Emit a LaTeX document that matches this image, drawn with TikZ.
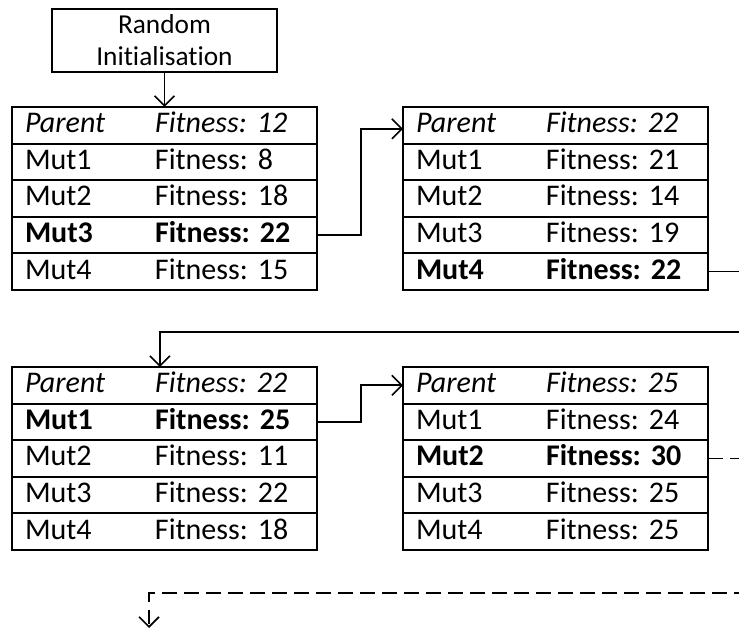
\documentclass[tikz,border=0pt]{standalone}
\usepackage{fontspec}
\setmainfont{Carlito}[RawFeature=-liga]
\usetikzlibrary{arrows.meta}

% two-column row text: label column, then fitness column
\newcommand\fitrow[2]{\makebox[97.5pt][l]{#1}#2}

\begin{document}
\frenchspacing
\begin{tikzpicture}[x=0.75pt,y=-0.75pt,
  rowbox/.style={draw, line width=1.4pt, anchor=north west, outer sep=0pt,
    minimum width=228.75pt, minimum height=27.45pt,
    text width=209.25pt, text height=16pt, text depth=5pt,
    inner xsep=9.75pt, inner ysep=0pt, align=left,
    font=\fontsize{22.5}{26}\selectfont},
  nextrow/.style={rowbox, at={(#1.south west)}},
  initbox/.style={draw, line width=1.4pt, outer sep=0pt, minimum width=168.75pt,
    minimum height=47.25pt, align=center, inner sep=0pt,
    font=\fontsize{20.5}{24}\selectfont},
  conn/.style={line width=1.2pt, -{Straight Barb[length=7.5pt,width=15pt,line width=1.2pt]}},
  dashconn/.style={conn, dash pattern=on 11pt off 5.5pt}]

\useasboundingbox (0,0) rectangle (739,630);
\clip (0,0) rectangle (739,630);

% start node
\node[initbox] (init) at (164.5,40.5) {Random\\Initialisation};

% generation 1
\node[rowbox] (t1r0) at (12,107) {\itshape\fitrow{Parent}{Fitness: 12}};
\node[nextrow=t1r0] (t1r1) {\fitrow{Mut1}{Fitness: 8}};
\node[nextrow=t1r1] (t1r2) {\fitrow{Mut2}{Fitness: 18}};
\node[nextrow=t1r2] (t1r3) {\bfseries\fitrow{Mut3}{Fitness: 22}};
\node[nextrow=t1r3] (t1r4) {\fitrow{Mut4}{Fitness: 15}};

% generation 2
\node[rowbox] (t2r0) at (403,107) {\itshape\fitrow{Parent}{Fitness: 22}};
\node[nextrow=t2r0] (t2r1) {\fitrow{Mut1}{Fitness: 21}};
\node[nextrow=t2r1] (t2r2) {\fitrow{Mut2}{Fitness: 14}};
\node[nextrow=t2r2] (t2r3) {\fitrow{Mut3}{Fitness: 19}};
\node[nextrow=t2r3] (t2r4) {\bfseries\fitrow{Mut4}{Fitness: 22}};

% generation 3
\node[rowbox] (t3r0) at (12,367) {\itshape\fitrow{Parent}{Fitness: 22}};
\node[nextrow=t3r0] (t3r1) {\bfseries\fitrow{Mut1}{Fitness: 25}};
\node[nextrow=t3r1] (t3r2) {\fitrow{Mut2}{Fitness: 11}};
\node[nextrow=t3r2] (t3r3) {\fitrow{Mut3}{Fitness: 22}};
\node[nextrow=t3r3] (t3r4) {\fitrow{Mut4}{Fitness: 18}};

% generation 4
\node[rowbox] (t4r0) at (403,367) {\itshape\fitrow{Parent}{Fitness: 25}};
\node[nextrow=t4r0] (t4r1) {\fitrow{Mut1}{Fitness: 24}};
\node[nextrow=t4r1] (t4r2) {\bfseries\fitrow{Mut2}{Fitness: 30}};
\node[nextrow=t4r2] (t4r3) {\fitrow{Mut3}{Fitness: 25}};
\node[nextrow=t4r3] (t4r4) {\fitrow{Mut4}{Fitness: 25}};

% routing points for the wrap-around connectors
\coordinate (wrapA) at (760,332);
\coordinate (wrapB) at (760,593);
\coordinate (nextgen) at (149,628);

% connectors
\draw[conn] (init) -- (t1r0);
\draw[conn] (t1r3.east) -- ++(44,0) |- ([yshift=-2.6pt]t2r0.west);
\draw[conn] (t2r4.east) -| (wrapA) -| ([xshift=-3.4pt]t3r0.north);
\draw[conn] (t3r1.east) -- ++(44,0) |- (t4r0.west);
\draw[dashconn] (t4r2.east) -| (wrapB) -| (nextgen);

\end{tikzpicture}
\end{document}
